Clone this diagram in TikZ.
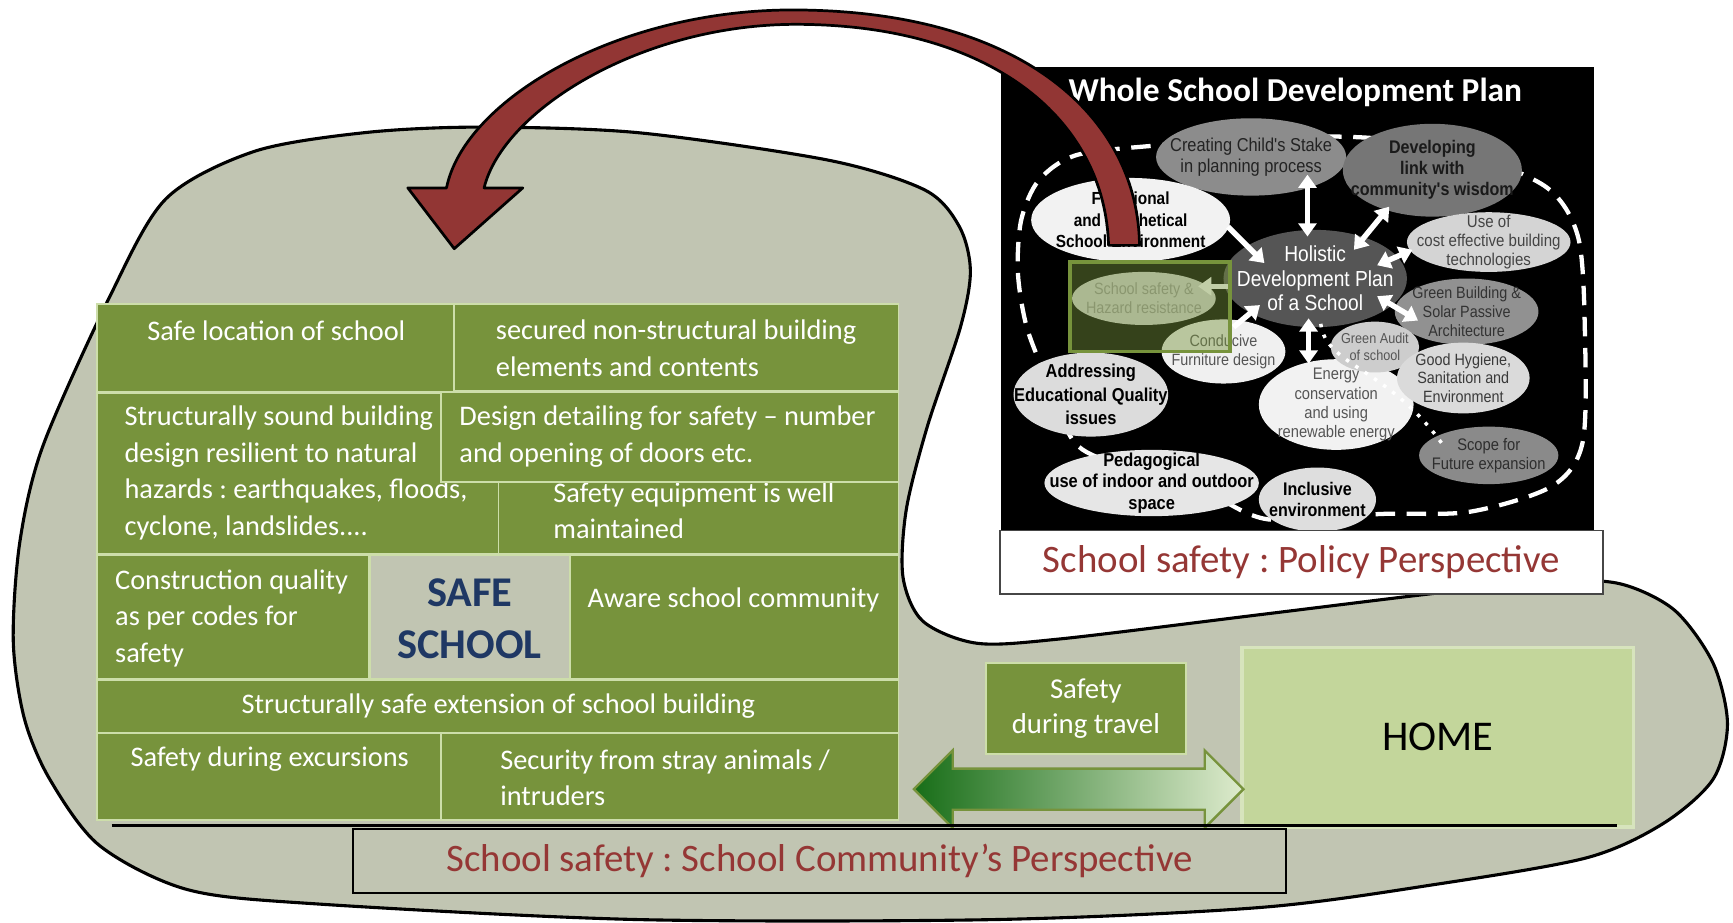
\documentclass[tikz,border=0pt]{standalone}
\usepackage{fontspec}
\setmainfont{Carlito}
\newfontfamily\panelfont[FakeStretch=0.88]{Liberation Sans}
\usetikzlibrary{arrows.meta}
\usetikzlibrary{shapes.arrows}
\usetikzlibrary{calc}
\frenchspacing

\definecolor{sage}{RGB}{193,197,178}
\definecolor{olivetile}{RGB}{119,147,60}
\definecolor{tileedge}{RGB}{205,222,170}
\definecolor{navy}{RGB}{31,56,100}
\definecolor{capred}{RGB}{149,55,53}
\definecolor{homefill}{RGB}{195,214,155}
\definecolor{homeedge}{RGB}{215,228,189}
\definecolor{arrowred}{RGB}{146,54,52}
\definecolor{traveldark}{RGB}{24,110,24}
\definecolor{travelmid}{RGB}{140,180,100}
\definecolor{travellight}{RGB}{222,235,205}

\tikzset{tile/.style = {fill=olivetile, draw=tileedge, line width=0.45pt}}
\tikzset{tiletxt/.style = {text=white, inner sep=0pt, align=left,
                           font=\fontsize{7.3}{9.4}\selectfont}}
\tikzset{ptxt/.style = {inner sep=0pt, align=center,
                        font=\panelfont\fontsize{4.2}{4.8}\selectfont}}
\tikzset{pbold/.style = {inner sep=0pt, align=center,
                         font=\panelfont\bfseries\fontsize{4.7}{5.4}\selectfont}}
\tikzset{wtip/.style = {draw=white, line width=1.4pt,
                        -{Triangle[width=4.6pt,length=3.4pt]}}}
\tikzset{wboth/.style = {draw=white, line width=1.4pt,
                         {Triangle[width=4.6pt,length=3.4pt]}-{Triangle[width=4.6pt,length=3.4pt]}}}
\tikzset{plandash/.style = {draw=white, line width=1.1pt, dash pattern=on 5pt off 3pt}}
\tikzset{caption/.style = {text=capred, line width=0.5pt,
                           font=\fontsize{10}{12}\selectfont}}

\begin{document}
\begin{tikzpicture}[x=0.01cm, y=-0.01cm]
  \useasboundingbox (0,0) rectangle (1568,835);

  % community blob
  \draw [fill=sage, line width=0.8pt] plot [smooth cycle] coordinates {
    (433,115) (577,120) (750,145) (837,172) (868,205) (878,245) (869,296)
    (839,386) (820,461) (817,522) (835,562) (884,582) (960,578) (1141,556)
    (1288,538) (1400,526) (1465,528) (1515,552) (1550,600) (1563,655)
    (1550,705) (1505,745) (1436,776) (1300,800) (1141,821) (900,832)
    (577,832) (289,818) (170,805) (90,765) (45,705) (22,650) (12,580)
    (18,490) (39,403) (99,269) (150,180) (230,137) (330,120)};

  % safe school tiles
  \draw [tile] (88,275) rectangle (411,355);
  \node [tiletxt, align=center] (safeloc) at (250,299) {Safe location of school};
  \draw [tile] (411,275) rectangle (813,354);
  \node [tiletxt, anchor=west] (nonstruct) at (448,315)
        {secured non-structural building\\elements and contents};
  \draw [tile] (88,356) rectangle (451,501);
  \node [tiletxt, anchor=west] (soundbuild) at (112,428)
        {Structurally sound building\\design resilient to natural\\hazards : earthquakes, floods,\\cyclone, landslides....};
  \draw [tile] (451,436) rectangle (813,501);
  \node [tiletxt, anchor=west] (equipment) at (500,462)
        {Safety equipment is well\\maintained};
  \draw [tile] (399,355) rectangle (813,436);
  \node [tiletxt, anchor=west] (detailing) at (415,395)
        {Design detailing for safety -- number\\and opening of doors etc.};
  \draw [tile] (88,502) rectangle (334,614);
  \node [tiletxt, anchor=west] (construction) at (103.5,559.5)
        {Construction quality\\as per codes for\\safety};
  \draw [tile, fill=sage] (335,502) rectangle (516,614);
  \node [text=navy, inner sep=0pt, align=center,
         font=\bfseries\fontsize{10.9}{13.4}\selectfont] (safeschool) at (425,559.5) {SAFE\\SCHOOL};
  \draw [tile] (516,502) rectangle (813,614);
  \node [tiletxt, anchor=west] (aware) at (531,543) {Aware school community};
  \draw [tile] (88,615) rectangle (813,663);
  \node [tiletxt, align=center] (extension) at (451,639)
        {Structurally safe extension of school building};
  \draw [tile] (88,663) rectangle (399,742);
  \node [tiletxt, align=center] (excursions) at (244,687) {Safety during excursions};
  \draw [tile] (399,663) rectangle (813,742);
  \node [tiletxt, anchor=west] (stray) at (452,703.5)
        {Security from stray animals /\\intruders};

  % travel and home
  \node [fill=olivetile, draw=tileedge, line width=0.6pt, text=white, align=center,
         minimum width=1.81cm, minimum height=0.82cm,
         font=\fontsize{7.4}{9}\selectfont] (travel) at (982.5,641) {Safety\\during travel};
  \node [fill=homefill, draw=homeedge, line width=0.9pt,
         minimum width=3.54cm, minimum height=1.62cm,
         font=\fontsize{10.9}{13}\selectfont] (home) at (1301,667) {HOME};
  \node [double arrow, double arrow head extend=0.165cm, inner sep=0.175cm,
         minimum height=2.98cm, left color=traveldark, middle color=travelmid,
         right color=travellight, draw=olivetile, line width=0.6pt] (travelarrow) at (976,714) {};
  \draw [line width=0.6pt] (101,747) -- (1463,747);

  \node [caption, fill=sage, draw=black, minimum width=8.43cm, minimum height=0.58cm]
        (commcap) at (741.5,779) {School safety : School Community’s Perspective};

  % whole school development plan
  \fill [black] (906,61) rectangle (1442,481);
  \node [text=white, inner sep=0pt, font=\bfseries\fontsize{8.6}{10}\selectfont]
        (plantitle) at (1172,84) {Whole School Development Plan};
  \draw [plandash] plot [smooth cycle] coordinates {
    (1053,131) (1140,124) (1243,125) (1330,140) (1400,170) (1428,215)
    (1434,300) (1432,400) (1404,440) (1330,463) (1250,465) (1148,470)
    (1090,445) (1010,420) (972,400) (948,345) (929,296) (921,247)
    (924,199) (940,163) (975,140)};

  \fill [fill={rgb,255:red,140;green,140;blue,140}] (1132,142) ellipse [x radius=86, y radius=35]
        node [ptxt, text={rgb,255:red,35;green,35;blue,35}, font=\panelfont\fontsize{4.8}{5.3}\selectfont]
        (creating) {Creating Child's Stake\\in planning process};
  \fill [fill={rgb,255:red,118;green,118;blue,118}] (1296,154) ellipse [x radius=81, y radius=42]
        node [pbold, text={rgb,255:red,26;green,26;blue,26}] (developing) {Developing\\link with\\community's wisdom};
  \fill [fill={rgb,255:red,242;green,242;blue,242}] (1023,199) ellipse [x radius=90, y radius=38]
        node [pbold, text=black, font=\panelfont\bfseries\fontsize{4.5}{5.5}\selectfont]
        (functional) {Functional\\and Aesthetical\\School Environment};
  \fill [fill={rgb,255:red,212;green,212;blue,212}] (1347,219) ellipse [x radius=74, y radius=27]
        node [ptxt, text={rgb,255:red,68;green,68;blue,68}, font=\panelfont\fontsize{4.4}{4.8}\selectfont]
        (useof) {Use of\\cost effective building\\technologies};
  \fill [fill={rgb,255:red,145;green,145;blue,145}] (1327,282) ellipse [x radius=65, y radius=30]
        node [ptxt, text={rgb,255:red,51;green,51;blue,51}] (greenbldg) {Green Building \&\\Solar Passive\\Architecture};
  \fill [fill={rgb,255:red,215;green,215;blue,215}] (1035,270) ellipse [x radius=65, y radius=24]
        node [ptxt, text={rgb,255:red,154;green,154;blue,154}] (safety) {School safety \&\\Hazard resistance};
  \fill [fill={rgb,255:red,240;green,240;blue,240}] (1107,318) ellipse [x radius=56, y radius=29]
        node [ptxt, text={rgb,255:red,85;green,85;blue,85}] (conducive) {Conducive\\Furniture design};
  \fill [fill={rgb,255:red,242;green,242;blue,242}] (1209,366) ellipse [x radius=70, y radius=41]
        node [ptxt, text={rgb,255:red,85;green,85;blue,85}, font=\panelfont\fontsize{4.3}{4.9}\selectfont]
        (energy) {Energy\\conservation\\and using\\renewable energy};
  \fill [fill={rgb,255:red,205;green,205;blue,205}] (1244,314) ellipse [x radius=40, y radius=23]
        node [ptxt, text={rgb,255:red,85;green,85;blue,85}, font=\panelfont\fontsize{3.7}{4.3}\selectfont]
        (audit) {Green Audit\\of school};
  \fill [fill={rgb,255:red,218;green,218;blue,218}] (1324,342) ellipse [x radius=60, y radius=32]
        node [ptxt, text={rgb,255:red,58;green,58;blue,58}] (hygiene) {Good Hygiene,\\Sanitation and\\Environment};
  \fill [fill={rgb,255:red,138;green,138;blue,138}] (1347,412) ellipse [x radius=63, y radius=26]
        node [ptxt, text={rgb,255:red,46;green,46;blue,46}, font=\panelfont\fontsize{4.3}{4.9}\selectfont]
        (scope) {Scope for\\Future expansion};
  \fill [fill={rgb,255:red,220;green,220;blue,220}] (987,357) ellipse [x radius=70, y radius=38]
        node [pbold, text=black, font=\panelfont\bfseries\fontsize{4.8}{6}\selectfont]
        (addressing) {Addressing\\Educational Quality\\issues};
  \fill [fill={rgb,255:red,230;green,230;blue,230}] (1042,437) ellipse [x radius=97, y radius=30]
        node [pbold, text=black, font=\panelfont\bfseries\fontsize{4.8}{5.6}\selectfont]
        (pedagogical) {Pedagogical\\use of indoor and outdoor\\space};
  \fill [fill={rgb,255:red,222;green,222;blue,222}] (1192,452) ellipse [x radius=53, y radius=29]
        node [pbold, text=black] (inclusive) {Inclusive\\environment};
  \fill [fill={rgb,255:red,85;green,85;blue,85}] (1190,252) ellipse [x radius=83, y radius=44]
        node [ptxt, text=white, font=\panelfont\fontsize{5.6}{6.3}\selectfont]
        (holistic) {Holistic\\Development Plan\\of a School};

  \draw [wboth] ($(creating)+(51,16)$) -- ($(holistic)+(-7,-38)$);
  \draw [wboth] ($(developing)+(-39,33)$) -- ($(holistic)+(35,-26)$);
  \draw [wtip] ($(functional)+(88,6)$) -- ($(holistic)+(-46,-14)$);
  \draw [wboth] ($(useof)+(-69,7)$) -- ($(holistic)+(56,-12)$);
  \draw [wboth] ($(holistic)+(56,16)$) -- ($(greenbldg)+(-44,8)$);
  \draw [wtip] ($(holistic)+(-78,7)$) -- ($(safety)+(49,-11)$);
  \draw [wtip] ($(conducive)+(9,-22)$) -- ($(holistic)+(-50,24)$);
  \draw [wboth] ($(holistic)+(-6,36)$) -- ($(energy)+(-25,-37)$);
  \draw [white, line width=0.9pt, dotted] ($(holistic)+(5,41)$)
        .. controls ($(holistic)+(10,80)$) and ($(scope)+(-90,-80)$) .. ($(scope)+(-39,-6)$);

  \draw [draw=olivetile, line width=0.9pt, fill=olivetile, fill opacity=0.45]
        (968,237) rectangle (1113,318);

  \node [caption, fill=white, draw={rgb,255:red,70;green,70;blue,70},
         minimum width=5.45cm, minimum height=0.57cm]
        (policycap) at (1177.5,508.5) {School safety : Policy Perspective};

  % curved arrow from plan to school
  \draw [fill=arrowred, line width=0.7pt, line join=round]
        (1031,222) .. controls (1030,110) and (930,10) .. (720,9)
        .. controls (560,8) and (420,90) .. (404,170) -- (369,170) -- (411,225)
        -- (473,170) -- (438,170) .. controls (455,100) and (580,22) .. (720,22)
        .. controls (900,22) and (1000,110) .. (1003,222) -- cycle;
\end{tikzpicture}
\end{document}
